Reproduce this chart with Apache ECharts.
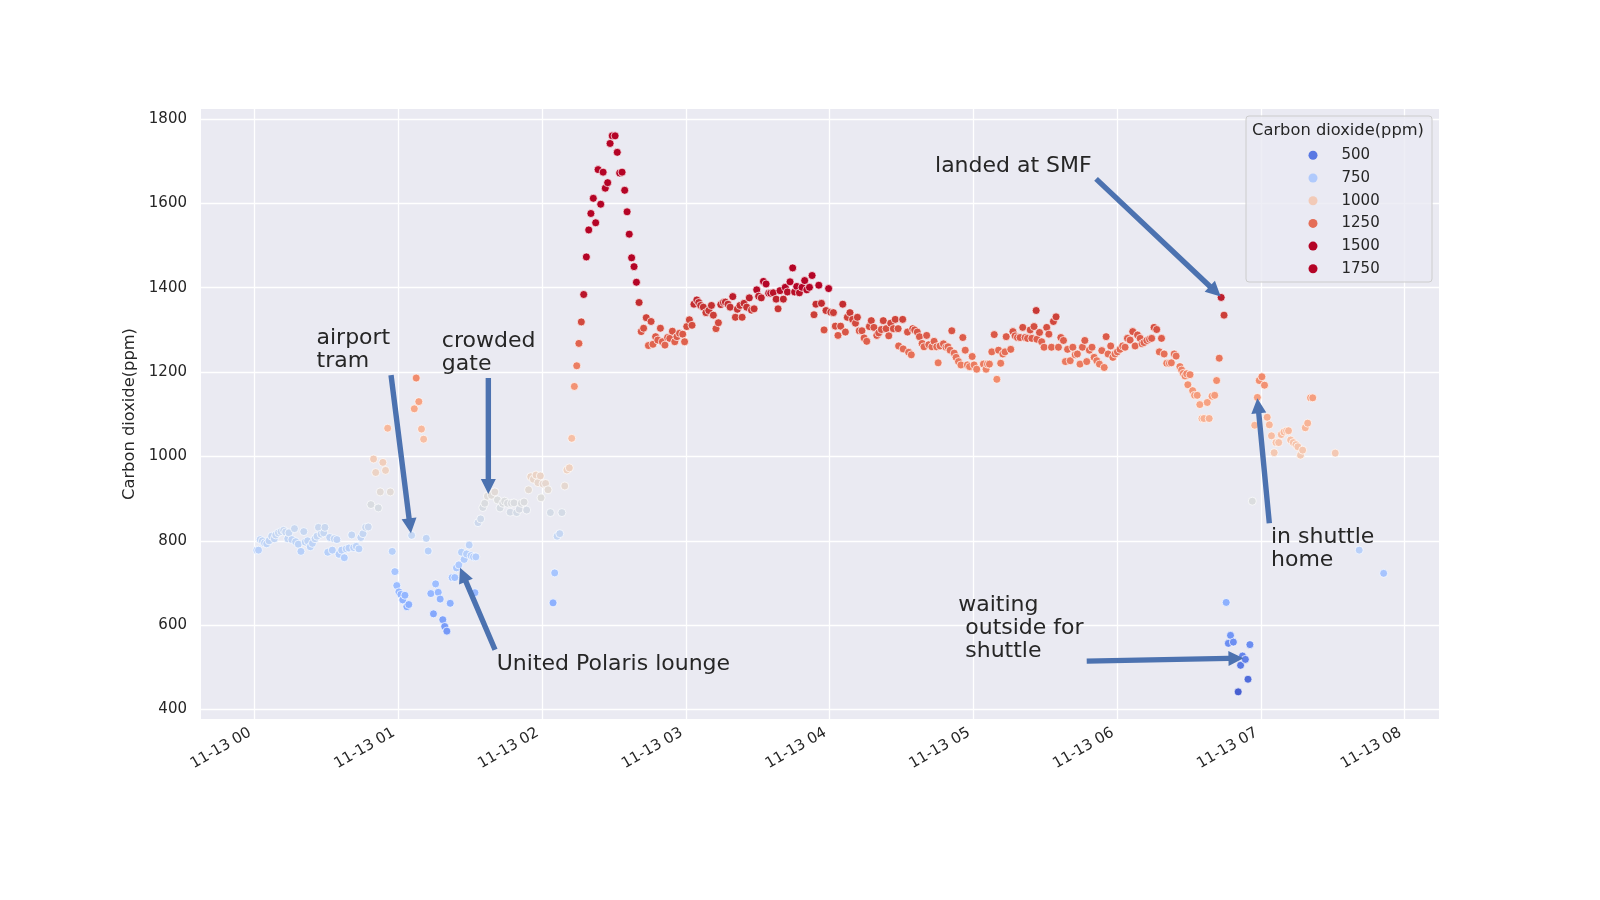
<!DOCTYPE html>
<html>
<head>
<meta charset="utf-8">
<script src="https://cdn.jsdelivr.net/npm/echarts@6/dist/echarts.min.js"></script>
<style>
html,body{margin:0;padding:0;background:#ffffff;}
#chart{width:1600px;height:900px;}
</style>
</head>
<body>
<div id="chart"></div>
<script>
// ---------------- data (minutes after 11-13 00:00, CO2 ppm) ----------------
const xTickMinutes = [0, 60, 120, 180, 240, 300, 360, 420, 480];
const xTickLabels = ['11-13 00', '11-13 01', '11-13 02', '11-13 03', '11-13 04', '11-13 05', '11-13 06', '11-13 07', '11-13 08'];
const yTickValues = [400, 600, 800, 1000, 1200, 1400, 1600, 1800];
const legendLevels = [500, 750, 1000, 1250, 1500, 1750];

const terminalReadings = [
  [1.0,778],[1.7,778],[2.4,803],[3.3,800],[4.2,795],[5.1,793],[6.1,800],[7.2,811],[8.3,805],[8.9,814],
  [10.0,819],[11.1,822],[12.2,825],[13.0,821],[13.9,805],[14.4,819],[15.6,803],[16.7,829],[17.2,798],[18.3,792],
  [19.4,775],[20.6,822],[21.2,797],[22.2,800],[23.3,786],[24.2,794],[25.3,805],[26.1,811],[26.7,832],[27.8,816],
  [28.9,819],[29.4,832],[30.6,773],[31.4,808],[32.5,778],[33.3,805],[34.4,803],[35.3,768],[36.4,778],[37.5,760],
  [38.3,781],[39.4,783],[40.6,814],[41.4,784],[42.5,787],[43.6,781],[44.4,808],[45.3,817],[46.4,832],[47.5,833],
  [48.6,886],[49.7,994],[50.6,962],[51.7,878],[52.5,916],[53.6,986],[54.7,967],[55.6,1067],[56.7,916],[57.5,775],
  [58.6,727],[59.4,694],[60.3,679],[61.1,673],[61.9,660],[62.8,671],[63.6,644],[64.4,649],[65.6,813],[66.7,1113],
  [67.5,1186],[68.6,1130],[69.7,1065],[70.6,1041],[71.7,806],[72.5,776],[73.6,675],[74.7,627],[75.6,698],[76.7,678],
  [77.5,662],[78.6,613],[79.4,597],[80.3,586],[81.7,652],[82.5,713],[83.6,713],[84.3,736],[85.3,743],[86.4,773],
  [87.5,756],[88.5,769],[89.6,790],[90.4,765],[91.4,762],[92.0,677],[92.4,762],[93.3,843],[94.4,852],[95.3,879],
  [96.1,889],[97.2,906],[98.9,908],[100.3,916],[101.4,897],[102.5,878],[103.6,889],[104.4,894],[105.6,889],[106.7,868],
  [107.2,889],[108.3,890],[109.4,867],[110.5,875],[111.4,889],[112.5,892],[113.6,873],[114.4,921],[115.3,952],[116.4,946],
  [117.5,956],[118.3,938],[119.3,954],[119.6,902]
];

const ascentReadings = [
  [120.4,935],[121.5,936],[122.5,921],[123.5,867],[124.6,653],[125.3,724],[126.3,811],[127.4,817],[128.3,867],[129.5,930],
  [130.4,968],[131.4,973],[132.4,1043],[133.5,1166],[134.5,1215],[135.4,1268],[136.4,1319],[137.4,1384],[138.5,1473],[139.5,1537],
  [140.4,1576],[141.4,1612],[142.4,1554],[143.4,1680],[144.5,1598],[145.5,1674],[146.4,1636],[147.4,1649],[148.4,1742],[149.3,1760],
  [150.5,1760],[151.4,1721],[152.4,1672],[153.4,1674],[154.5,1631],[155.5,1580],[156.4,1527],[157.4,1471],[158.4,1450],[159.4,1413],
  [160.5,1365],[161.4,1296],[162.4,1304],[163.5,1329],[164.4,1263],[165.5,1320],[166.3,1266],[167.4,1284],[168.3,1276],[169.4,1304],
  [170.2,1272],[171.3,1264],[172.4,1282],[173.3,1280],[174.4,1297],[175.4,1272],[176.3,1284],[177.4,1292]
];

const cruiseReadings = [
  [178.7,1290],[179.5,1272],[180.4,1308],[181.5,1324],[182.6,1311],[183.4,1361],[184.6,1371],[185.4,1365],[186.2,1358],[187.3,1354],
  [188.4,1341],[189.6,1346],[190.7,1358],[191.5,1335],[192.6,1303],[193.6,1317],[194.6,1360],[195.7,1365],[196.5,1366],[197.6,1361],
  [198.5,1354],[199.6,1379],[200.7,1330],[201.5,1349],[202.6,1358],[203.5,1330],[204.3,1363],[205.4,1354],[206.5,1376],[207.4,1347],
  [208.5,1350],[209.6,1395],[210.4,1380],[211.5,1376],[212.4,1415],[213.5,1409],[214.6,1387],[215.4,1387],[216.5,1388],[217.7,1373],
  [218.5,1350],[219.3,1393],[220.7,1373],[221.5,1401],[222.4,1390],[223.5,1414],[224.6,1447],[225.4,1390],[226.3,1403],[227.4,1388],
  [228.5,1401],[229.6,1417],[230.5,1395],[231.6,1401],[232.7,1429],[233.5,1336],[234.3,1361],[235.5,1406],[236.6,1363],[237.7,1300],
  [238.5,1346],[239.6,1398],[240.5,1342],[241.6,1341],[242.4,1309],[243.5,1287],[244.6,1309],[245.5,1361],[246.6,1295],[247.4,1330],
  [248.5,1341],[249.6,1325],[250.8,1316],[251.6,1330],[252.4,1298],[253.5,1298],[254.4,1281],[255.5,1273],[256.6,1308],[257.4,1322],
  [258.5,1306],[259.7,1287],[260.5,1293],[261.6,1301],[262.4,1322],[263.6,1303],[264.7,1286],[265.5,1316],[266.6,1303],[267.4,1325],
  [268.6,1303],[268.8,1262],[270.5,1325],[270.7,1255],[272.5,1295],[273.0,1247],[274.1,1241],[274.7,1303],[275.5,1300],[276.6,1295],
  [277.5,1284],[278.6,1268],[279.4,1260],[280.5,1287],[281.4,1265],[282.7,1260],[283.6,1273],[284.7,1260],[285.3,1222],[286.1,1262],
  [287.5,1267],[288.6,1259],[289.4,1260]
];

const approachReadings = [
  [290.3,1252],[291.0,1298],[292.0,1245],[292.8,1235],[293.8,1225],[294.8,1217],[295.6,1282],[296.6,1252],[297.5,1217],[298.4,1213],
  [299.5,1237],[300.3,1217],[301.4,1207],[304.2,1219],[305.3,1207],[305.9,1219],[306.7,1219],[307.7,1248],[308.7,1289],[309.8,1183],
  [310.5,1252],[311.4,1221],[312.3,1243],[313.2,1248],[313.7,1284],[315.6,1254],[316.5,1296],[317.4,1286],[318.4,1282],[319.5,1282],
  [320.6,1306],[321.6,1282],[322.6,1280],[323.7,1300],[324.4,1280],[325.3,1308],[326.2,1346],[326.5,1278],[327.6,1294],[328.5,1272],
  [329.5,1259],[330.6,1306],[331.5,1290],[332.6,1259],[333.4,1320],[334.5,1331],[335.5,1259],[336.5,1282],[337.6,1275],[338.4,1225],
  [339.3,1254],[340.4,1227],[341.5,1259],[342.5,1241],[343.4,1243],[344.5,1219],[345.5,1259],[346.5,1275],[347.3,1225],[348.4,1252],
  [349.5,1259],[350.4,1235],[351.5,1227],[352.6,1219],[353.6,1251],[354.6,1211],[355.4,1284],[356.2,1243],[357.3,1262],[358.2,1235],
  [359.1,1243],[360.1,1248],[361.2,1254],[362.3,1262],[363.3,1259],[364.3,1280],[365.4,1276],[366.5,1296],[367.5,1262],[368.5,1288],
  [369.6,1280],[370.4,1267],[371.2,1270],[372.4,1275],[373.5,1278],[374.4,1280],[375.4,1306],[376.5,1301],[377.6,1248],[378.5,1280],
  [379.6,1243],[380.7,1221],[381.8,1221],[382.6,1222],[383.8,1243],[384.6,1238]
];

const arrivalReadings = [
  [386.2,1213],[386.9,1205],[387.6,1197],[388.3,1191],[389.0,1196],[389.5,1170],[390.4,1194],[391.5,1156],[392.3,1145],[393.4,1145],
  [394.5,1123],[395.4,1090],[396.2,1090],[397.6,1128],[398.4,1090],[399.6,1143],[400.7,1145],[401.5,1180],[402.6,1233],[403.4,1377],
  [404.6,1335],[405.5,654],[406.4,557],[407.3,576],[408.5,560],[410.5,442],[411.5,505],[412.3,527],[413.5,519],[414.6,472],
  [415.4,554],[416.4,894],[417.4,1074],[418.5,1140],[419.3,1180],[420.4,1189],[421.5,1169],[422.6,1093],[423.5,1075],[424.4,1049],
  [425.5,1009],[426.3,1033],[427.4,1033],[428.5,1052],[429.6,1058],[430.7,1061],[431.5,1061],[432.4,1039],[433.5,1033],[434.6,1028],
  [435.4,1023],[436.5,1003],[437.4,1015],[438.5,1068],[439.5,1079],[440.7,1139],[441.6,1139],[451.0,1008],[461.0,778],[471.2,723]
];

// annotations: text anchored at first-line baseline (left), arrow from -> to, all in data coordinates
const annotationTexts = ['airport\ntram', 'crowded\ngate', 'United Polaris lounge', 'landed at SMF', 'waiting\n outside for\n shuttle', 'in shuttle\nhome'];
const annotationTextAt = [[25.9,1268],[78.2,1260],[101.1,495],[284.0,1676],[293.7,635],[424.2,795]];
const annotationArrowFrom = [[57.0,1193],[97.6,1186],[100.4,542],[351.2,1658],[347.3,515],[423.5,842]];
const annotationArrowTo = [[65.3,818],[97.6,911],[85.8,736],[403.2,1379],[412.7,522],[418.5,1138]];

// ---------------- styling ----------------
const FONT = '"DejaVu Sans", "Liberation Sans", sans-serif';
const TEXT_COLOR = '#262626';
const HUE_MIN = 400, HUE_MAX = 1400;
const COOLWARM = ['#3b4cc0','#445acc','#4d68d7','#5775e1','#6282ea','#6c8ef1','#779af7','#82a5fb','#8db0fe','#98b9ff',
  '#a3c2ff','#aec9fd','#b8d0f9','#c2d5f4','#ccd9ee','#d5dbe6','#dddddd','#e5d8d1','#ecd3c5','#f1ccb9','#f5c4ad',
  '#f7bba0','#f7b194','#f7a687','#f49a7b','#f18d6f','#ec7f63','#e57058','#de604d','#d55042','#cb3e38','#c0282f','#b40426'];

function hexToRgb(h){return [parseInt(h.substr(1,2),16),parseInt(h.substr(3,2),16),parseInt(h.substr(5,2),16)];}
function coolwarmAt(v){
  let p = (v - HUE_MIN) / (HUE_MAX - HUE_MIN);
  p = Math.max(0, Math.min(1, p));
  const f = p * (COOLWARM.length - 1);
  const i = Math.min(Math.floor(f), COOLWARM.length - 2);
  const t = f - i;
  const a = hexToRgb(COOLWARM[i]), b = hexToRgb(COOLWARM[i+1]);
  const c = a.map((x, k) => Math.round(x + (b[k] - x) * t));
  return 'rgb(' + c.join(',') + ')';
}

const allReadings = [].concat(terminalReadings, ascentReadings, cruiseReadings, approachReadings, arrivalReadings);

const chart = echarts.init(document.getElementById('chart'), null, {renderer: 'canvas'});

const legendSeries = legendLevels.map(lv => ({
  type: 'scatter', name: String(lv), data: [],
  itemStyle: {color: coolwarmAt(lv), opacity: 1}
}));

const option = {
  animation: false,
  backgroundColor: '#ffffff',
  grid: {left: 201, top: 109, width: 1238, height: 610, show: true, backgroundColor: '#eaeaf2', borderWidth: 0, containLabel: false, outerBoundsMode: 'none'},
  xAxis: {
    type: 'value', min: -22.3, max: 494.3,
    axisLine: {show: false},
    axisTick: {show: false, customValues: xTickMinutes},
    axisLabel: {
      customValues: xTickMinutes, rotate: 30, margin: 10, padding: [0, 5, 0, 0],
      fontSize: 15, fontFamily: FONT, color: TEXT_COLOR,
      formatter: function (v) { const i = xTickMinutes.indexOf(Math.round(v)); return i >= 0 ? xTickLabels[i] : ''; }
    },
    splitLine: {show: true, lineStyle: {color: '#ffffff', width: 1.3}}
  },
  yAxis: {
    type: 'value', min: 377.7, max: 1823.7,
    name: 'Carbon dioxide(ppm)', nameLocation: 'middle', nameGap: 48,
    nameTextStyle: {fontSize: 16.3, fontFamily: FONT, color: TEXT_COLOR},
    axisLine: {show: false},
    axisTick: {show: false, customValues: yTickValues},
    axisLabel: {customValues: yTickValues, margin: 14, fontSize: 15, fontFamily: FONT, color: TEXT_COLOR,
      formatter: function (v) { return String(Math.round(v)); }},
    splitLine: {show: true, lineStyle: {color: '#ffffff', width: 1.3}}
  },
  visualMap: {
    type: 'continuous', show: false, min: HUE_MIN, max: HUE_MAX, dimension: 1, seriesIndex: 0,
    inRange: {color: COOLWARM}
  },
  legend: {
    orient: 'vertical', left: 1308.5, top: 147.3, z: 10, padding: 0,
    itemWidth: 9, itemHeight: 9, itemGap: 6.7, icon: 'circle', selectedMode: false,
    itemStyle: {opacity: 1},
    textStyle: {fontFamily: FONT, fontSize: 15, color: TEXT_COLOR, lineHeight: 16, padding: [0, 0, 0, 19]},
    data: legendLevels.map(String)
  },
  series: [{
    type: 'scatter', name: 'co2', data: allReadings,
    symbol: 'circle', symbolSize: 8,
    itemStyle: {borderColor: '#ffffff', borderWidth: 0.7, opacity: 1},
    emphasis: {disabled: true}, z: 2
  }].concat(legendSeries)
};

chart.setOption(option);

// ---------------- annotations, legend frame ----------------
function px(p){ return chart.convertToPixel({gridIndex: 0}, p); }
function arrowPoints(from, to){
  const T = px(from), P = px(to);
  const dx = P[0]-T[0], dy = P[1]-T[1];
  const L = Math.sqrt(dx*dx+dy*dy);
  const ux = dx/L, uy = dy/L, nx = -uy, ny = ux;
  const w = 5.4, hw = 15, hl = 15;
  const Bx = P[0]-ux*hl, By = P[1]-uy*hl;
  return [
    [T[0]+nx*w/2, T[1]+ny*w/2], [Bx+nx*w/2, By+ny*w/2], [Bx+nx*hw/2, By+ny*hw/2],
    [P[0], P[1]],
    [Bx-nx*hw/2, By-ny*hw/2], [Bx-nx*w/2, By-ny*w/2], [T[0]-nx*w/2, T[1]-ny*w/2]
  ];
}

const graphics = [
  {type: 'rect', z: 9, shape: {x: 1246, y: 116, width: 186, height: 166, r: 3},
   style: {fill: 'rgba(234,234,242,0.8)', stroke: '#cccccc', lineWidth: 1}},
  {type: 'text', z: 10, x: 1338, y: 130.5,
   style: {text: 'Carbon dioxide(ppm)', font: '16.3px ' + FONT, fill: TEXT_COLOR, align: 'center', verticalAlign: 'middle'}}
];
annotationTexts.forEach((txt, i) => {
  graphics.push({type: 'polygon', z: 8, shape: {points: arrowPoints(annotationArrowFrom[i], annotationArrowTo[i])},
    style: {fill: '#4c72b0'}});
  const p = px(annotationTextAt[i]);
  graphics.push({type: 'text', z: 8, x: p[0], y: p[1] - 17,
    style: {text: txt, font: '22px ' + FONT, fill: TEXT_COLOR, align: 'left', verticalAlign: 'top', lineHeight: 23}});
});
chart.setOption({graphic: graphics});
</script>
</body>
</html>
